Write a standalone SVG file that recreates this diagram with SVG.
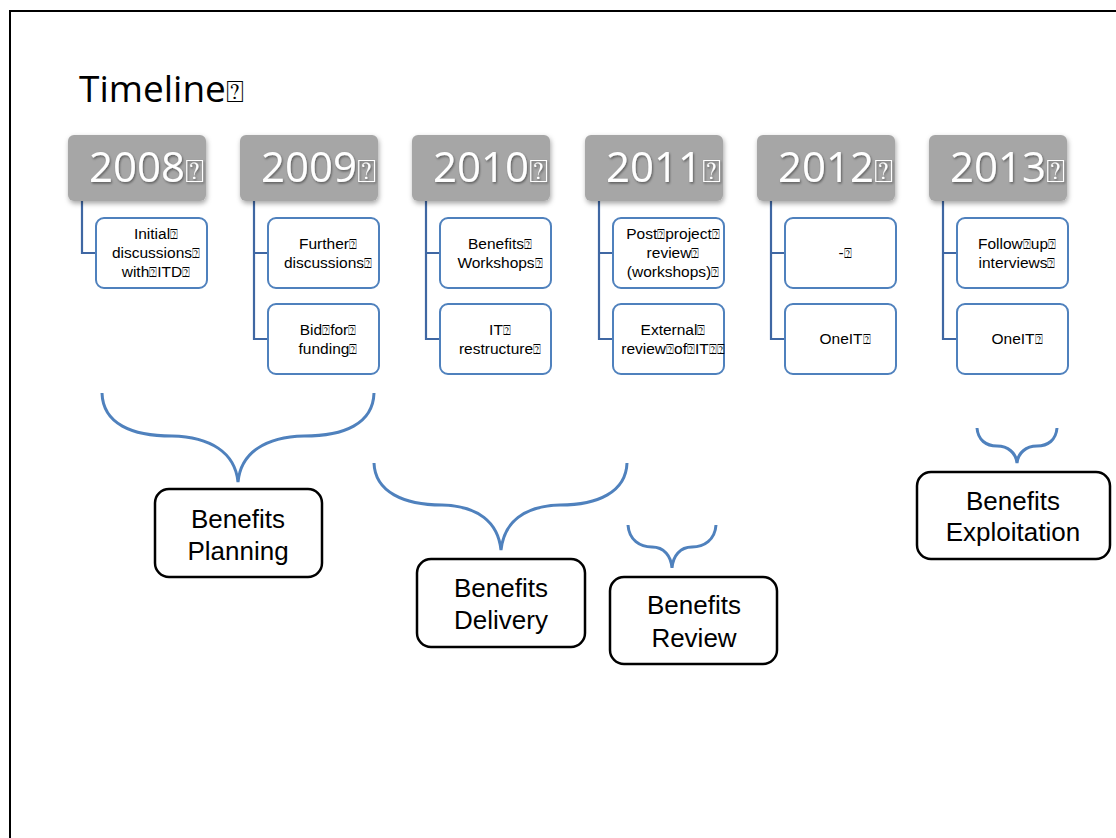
<svg xmlns="http://www.w3.org/2000/svg" width="1116" height="838" viewBox="0 0 1116 838">
  <style>
    .frame { fill: none; stroke: #000; stroke-width: 2; }
    .title { font-family: "Open Sans", "Liberation Sans", sans-serif; font-size: 37px; fill: #000; }
    .hdr { fill: #a6a6a6; }
    .year { font-family: "Open Sans", "Liberation Sans", sans-serif; font-size: 42px; fill: #fff; }
    .qy { font-family: "DejaVu Sans", sans-serif; font-size: 32px; }
    .qt { font-family: "DejaVu Sans", sans-serif; font-size: 30px; }
    .q { font-family: "DejaVu Sans", sans-serif; font-size: 13px; }
    .item { fill: #fff; stroke: #4f81bd; stroke-width: 2; }
    .itext { font-family: "Liberation Sans", Arial, sans-serif; font-size: 15.5px; fill: #000; text-anchor: middle; }
    .link { fill: none; stroke: #3f67a3; stroke-width: 2.2; }
    .brace { fill: none; stroke: #4f81bd; stroke-width: 3; }
    .phase { fill: #fff; stroke: #000; stroke-width: 2.5; }
    .ptext { font-family: "Liberation Sans", Arial, sans-serif; font-size: 26px; fill: #000; text-anchor: middle; }
  </style>
  <defs>
    <filter id="hdrShadow" x="-10%" y="-15%" width="125%" height="140%">
      <feDropShadow dx="1" dy="2.5" stdDeviation="2.5" flood-color="#000" flood-opacity="0.35"/>
    </filter>
    <filter id="txtShadow" x="-5%" y="-10%" width="115%" height="130%">
      <feDropShadow dx="1" dy="1.5" stdDeviation="1" flood-color="#000" flood-opacity="0.45"/>
    </filter>
  </defs>

  <rect width="1116" height="838" fill="#fff"/>
  <path class="frame" d="M10,838 V11 H1116"/>

  <text class="title" x="79" y="102">Timeline<tspan class="qt">⍰</tspan></text>

  <!-- connectors: year header to its items -->
  <g id="connectors">
    <path class="link" d="M82,201 V253 H96"/>
    <path class="link" d="M254,201 V339 H268 M254,253 H268"/>
    <path class="link" d="M426,201 V339 H440 M426,253 H440"/>
    <path class="link" d="M599,201 V339 H613 M599,253 H613"/>
    <path class="link" d="M771,201 V339 H785 M771,253 H785"/>
    <path class="link" d="M943,201 V339 H957 M943,253 H957"/>
  </g>

  <!-- year headers -->
  <g id="y2008">
    <rect class="hdr" x="68" y="135" width="138" height="66" rx="6" filter="url(#hdrShadow)"/>
    <text class="year" x="89" y="182" filter="url(#txtShadow)">2008<tspan class="qy">⍰</tspan></text>
  </g>
  <g id="y2009">
    <rect class="hdr" x="240" y="135" width="138" height="66" rx="6" filter="url(#hdrShadow)"/>
    <text class="year" x="261" y="182" filter="url(#txtShadow)">2009<tspan class="qy">⍰</tspan></text>
  </g>
  <g id="y2010">
    <rect class="hdr" x="412" y="135" width="138" height="66" rx="6" filter="url(#hdrShadow)"/>
    <text class="year" x="433" y="182" filter="url(#txtShadow)">2010<tspan class="qy">⍰</tspan></text>
  </g>
  <g id="y2011">
    <rect class="hdr" x="585" y="135" width="138" height="66" rx="6" filter="url(#hdrShadow)"/>
    <text class="year" x="606" y="182" filter="url(#txtShadow)">2011<tspan class="qy">⍰</tspan></text>
  </g>
  <g id="y2012">
    <rect class="hdr" x="757" y="135" width="138" height="66" rx="6" filter="url(#hdrShadow)"/>
    <text class="year" x="778" y="182" filter="url(#txtShadow)">2012<tspan class="qy">⍰</tspan></text>
  </g>
  <g id="y2013">
    <rect class="hdr" x="929" y="135" width="138" height="66" rx="6" filter="url(#hdrShadow)"/>
    <text class="year" x="950" y="182" filter="url(#txtShadow)">2013<tspan class="qy">⍰</tspan></text>
  </g>

  <!-- item boxes -->
  <g id="item2008a">
    <rect class="item" x="96" y="218" width="111" height="70" rx="8"/>
    <text class="itext" x="156" y="239">Initial<tspan class="q">⍰</tspan></text>
    <text class="itext" x="156" y="258">discussions<tspan class="q">⍰</tspan></text>
    <text class="itext" x="156" y="277">with<tspan class="q">⍰</tspan>ITD<tspan class="q">⍰</tspan></text>
  </g>
  <g id="item2009a">
    <rect class="item" x="268" y="218" width="111" height="70" rx="8"/>
    <text class="itext" x="328" y="249">Further<tspan class="q">⍰</tspan></text>
    <text class="itext" x="328" y="268">discussions<tspan class="q">⍰</tspan></text>
  </g>
  <g id="item2009b">
    <rect class="item" x="268" y="304" width="111" height="70" rx="8"/>
    <text class="itext" x="328" y="335">Bid<tspan class="q">⍰</tspan>for<tspan class="q">⍰</tspan></text>
    <text class="itext" x="328" y="354">funding<tspan class="q">⍰</tspan></text>
  </g>
  <g id="item2010a">
    <rect class="item" x="440" y="218" width="111" height="70" rx="8"/>
    <text class="itext" x="500" y="249">Benefits<tspan class="q">⍰</tspan></text>
    <text class="itext" x="500" y="268">Workshops<tspan class="q">⍰</tspan></text>
  </g>
  <g id="item2010b">
    <rect class="item" x="440" y="304" width="111" height="70" rx="8"/>
    <text class="itext" x="500" y="335">IT<tspan class="q">⍰</tspan></text>
    <text class="itext" x="500" y="354">restructure<tspan class="q">⍰</tspan></text>
  </g>
  <g id="item2011a">
    <rect class="item" x="613" y="218" width="111" height="70" rx="8"/>
    <text class="itext" x="673" y="239">Post<tspan class="q">⍰</tspan>project<tspan class="q">⍰</tspan></text>
    <text class="itext" x="673" y="258">review<tspan class="q">⍰</tspan></text>
    <text class="itext" x="673" y="277">(workshops)<tspan class="q">⍰</tspan></text>
  </g>
  <g id="item2011b">
    <rect class="item" x="613" y="304" width="111" height="70" rx="8"/>
    <text class="itext" x="673" y="335">External<tspan class="q">⍰</tspan></text>
    <text class="itext" x="673" y="354">review<tspan class="q">⍰</tspan>of<tspan class="q">⍰</tspan>IT<tspan class="q">⍰⍰</tspan></text>
  </g>
  <g id="item2012a">
    <rect class="item" x="785" y="218" width="111" height="70" rx="8"/>
    <text class="itext" x="845" y="258">-<tspan class="q">⍰</tspan></text>
  </g>
  <g id="item2012b">
    <rect class="item" x="785" y="304" width="111" height="70" rx="8"/>
    <text class="itext" x="845" y="344">OneIT<tspan class="q">⍰</tspan></text>
  </g>
  <g id="item2013a">
    <rect class="item" x="957" y="218" width="111" height="70" rx="8"/>
    <text class="itext" x="1017" y="249">Follow<tspan class="q">⍰</tspan>up<tspan class="q">⍰</tspan></text>
    <text class="itext" x="1017" y="268">interviews<tspan class="q">⍰</tspan></text>
  </g>
  <g id="item2013b">
    <rect class="item" x="957" y="304" width="111" height="70" rx="8"/>
    <text class="itext" x="1017" y="344">OneIT<tspan class="q">⍰</tspan></text>
  </g>

  <!-- braces grouping the years into phases -->
  <g id="braces">
    <path class="brace" d="M102,393 C103,424 132,436 172,436 C210,437 235,452 238,482 C241,452 266,437 304,436 C344,436 373,424 374,393"/>
    <path class="brace" d="M374,463 C375,492 404,505 442,505 C478,506 498,522 501,550 C504,522 524,506 560,505 C598,505 626,492 627,463"/>
    <path class="brace" d="M628,525 C629,540 640,547 652,547 C664,547 671,556 672,568 C673,556 680,547 692,547 C704,547 715,540 716,525"/>
    <path class="brace" d="M977,428 C978,440 986,446 997,446 C1008,446 1016,453 1017,463 C1018,453 1026,446 1037,446 C1048,446 1056,440 1057,428"/>
  </g>

  <!-- phase boxes -->
  <g id="planning">
    <rect class="phase" x="155" y="489" width="167" height="88" rx="14"/>
    <text class="ptext" x="238" y="528">Benefits</text>
    <text class="ptext" x="238" y="560">Planning</text>
  </g>
  <g id="delivery">
    <rect class="phase" x="417" y="559" width="168" height="88" rx="14"/>
    <text class="ptext" x="501" y="597">Benefits</text>
    <text class="ptext" x="501" y="629">Delivery</text>
  </g>
  <g id="review">
    <rect class="phase" x="610" y="577" width="167" height="87" rx="14"/>
    <text class="ptext" x="694" y="614">Benefits</text>
    <text class="ptext" x="694" y="647">Review</text>
  </g>
  <g id="exploitation">
    <rect class="phase" x="917" y="472" width="193" height="87" rx="14"/>
    <text class="ptext" x="1013" y="510">Benefits</text>
    <text class="ptext" x="1013" y="541">Exploitation</text>
  </g>
</svg>
